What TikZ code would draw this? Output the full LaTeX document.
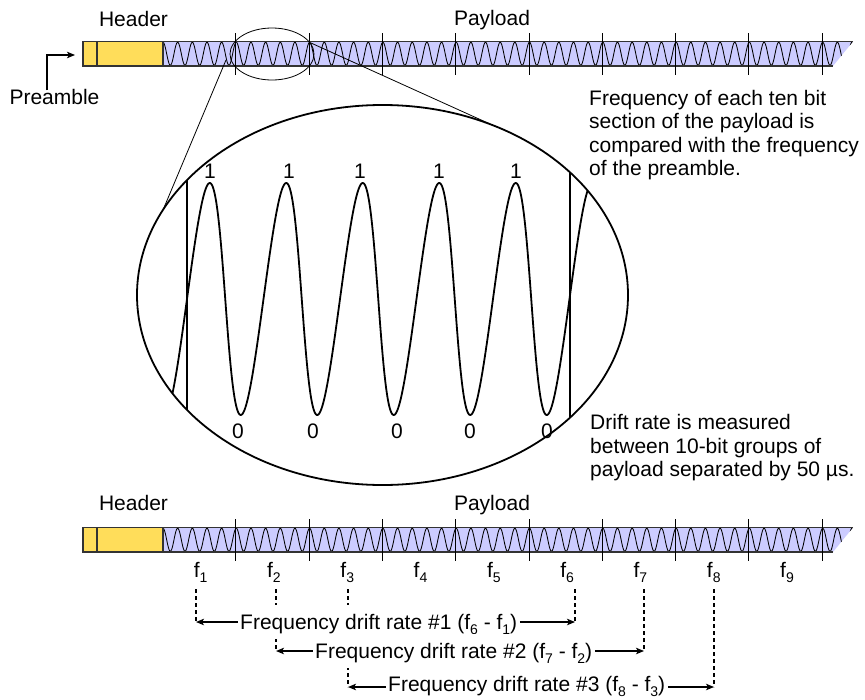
\documentclass[tikz,border=0pt]{standalone}
\usepackage{fontspec}
\setmainfont{Liberation Sans}
\usetikzlibrary{arrows.meta}
\definecolor{hdryellow}{RGB}{255,221,90}
\definecolor{paylblue}{RGB}{204,204,255}
\newcommand\fsub[1]{\raisebox{-4.5pt}{\fontsize{14}{14}\selectfont #1}}
\tikzset{
  txt/.style={font=\fontsize{21}{23.6}\selectfont, inner sep=0pt, text height=15pt, text depth=0pt},
  lbl/.style={txt, inner xsep=2.5pt, inner ysep=9.5pt, fill=white},
  para/.style={font=\fontsize{21}{23.6}\selectfont, inner sep=0pt, align=left, anchor=north west},
  arr/.style={line width=1.3pt, -{Stealth[length=8pt,width=6.5pt,inset=2pt]}},
  dsh/.style={line width=1.3pt, dash pattern=on 4pt off 3pt},
  thinline/.style={line width=0.8pt},
  heavy/.style={line width=1.8pt},
  packet/.pic={
    \fill[hdryellow] (0,0) rectangle (80,24.5);
    \fill[paylblue] (80,0) -- (770,0) -- (750,24.5) -- (80,24.5) -- cycle;
    \begin{scope}
      \clip (80,0) -- (770,0) -- (750,24.5) -- (80,24.5) -- cycle;
      \foreach \k in {0,...,9}
        \draw[line width=0.85pt] plot[domain=0:73.3, samples=120, variable=\s]
          ({80+73.3*\k+\s}, {12.25-11.5*cos(24.557*\s)});
    \end{scope}
    \draw[line width=1.3pt, draw=black!80] (770,0) -- (0,0) -- (0,24.5) -- (750,24.5);
    \draw[line width=1.3pt, draw=black!80] (14,0) -- (14,24.5) (80,0) -- (80,24.5);
    \foreach \k in {1,...,9}
      \draw[line width=0.9pt] ({79.5+73.3*\k},-8.5) -- ({79.5+73.3*\k},33.5);
  }
}
\begin{document}
\begin{tikzpicture}[x=1pt,y=-1pt]
\useasboundingbox (0,0) rectangle (865,699);

% top packet
\pic at (83,41.5) {packet};
\node[txt] (hdrA) at (133.5,19) {Header};
\node[txt] (payA) at (492,18) {Payload};
\node[txt] (pre) at (54.5,96.5) {Preamble};
\coordinate (pa) at (47,0);
\coordinate (pb) at (75,55);
\draw[arr] ([yshift=-1.5pt]pre.north -| pa) |- (pb);

% magnifier
\draw[thinline] (272,54) ellipse [x radius=42pt, y radius=26pt];
\coordinate (tA1) at (226,60);
\coordinate (tA2) at (163,210);
\coordinate (tB1) at (311,43);
\coordinate (tB2) at (490,124);
\draw[thinline] (tA1) -- (tA2);
\draw[thinline] (tB1) -- (tB2);

\begin{scope}
  \clip (382.5,295) ellipse [x radius=245.5pt, y radius=190pt];
  \draw[heavy] (187,90) -- (187,500);
  \draw[heavy] (570,90) -- (570,500);
  \draw[heavy] plot[domain=-1.5708:32.99, samples=500, variable=\t]
    ({187 + 12.175*\t + 3.625*sin(\t r)}, {299 - 116*sin(\t r)});
\end{scope}
\draw[heavy] (382.5,295) ellipse [x radius=245.5pt, y radius=190pt];

\foreach \xx [count=\i] in {210,289,360,439,516}
  \node[txt] (one\i) at (\xx,171) {1};
\foreach \xx [count=\i] in {238,313,397,470,547}
  \node[txt] (zero\i) at (\xx,431) {0};

\node[para] (noteA) at (589,89.7) {Frequency of each ten bit\\section of the payload is\\compared with the frequency\\of the preamble.};
\node[para] (noteB) at (590,414) {Drift rate is measured\\between 10-bit groups of\\payload separated by 50 µs.};

% bottom packet
\pic at (83,527.5) {packet};
\node[txt] (hdrB) at (133.5,503) {Header};
\node[txt] (payB) at (492,503) {Payload};
\foreach \i in {1,...,9}
  \node[txt] (f\i) at ({162.5+73.3*\i-36.65+1.5},570) {f\fsub{\i}};

% drift rates
\coordinate (d1t) at (196,589);  \coordinate (d1b) at (196,622);
\coordinate (d6t) at (575,589);  \coordinate (d6b) at (575,622);
\coordinate (d2t) at (276,589);  \coordinate (d2b) at (276,651);
\coordinate (d7t) at (644,589);  \coordinate (d7b) at (644,651);
\coordinate (d3t) at (348,589);  \coordinate (d3b) at (348,687);
\coordinate (d8t) at (714,589);  \coordinate (d8b) at (714,687);
\foreach \n in {1,6,2,7,3,8} \draw[dsh] (d\n t) -- (d\n b);

\node[lbl, anchor=west] (r1) at (237.5,622) {Frequency drift rate \#1 (f\fsub{6} - f\fsub{1})};
\node[lbl, anchor=west] (r2) at (312.5,651) {Frequency drift rate \#2 (f\fsub{7} - f\fsub{2})};
\node[lbl, anchor=west] (r3) at (385.5,684) {Frequency drift rate \#3 (f\fsub{8} - f\fsub{3})};
\draw[arr] (r1.west) -- (d1b);
\draw[arr] (r1.east) -- (d6b);
\draw[arr] (r2.west) -- (d2b);
\draw[arr] (r2.east) -- (d7b);
\draw[arr] (r3.west |- d3b) -- (d3b);
\draw[arr] (r3.east |- d8b) -- (d8b);
\end{tikzpicture}
\end{document}
